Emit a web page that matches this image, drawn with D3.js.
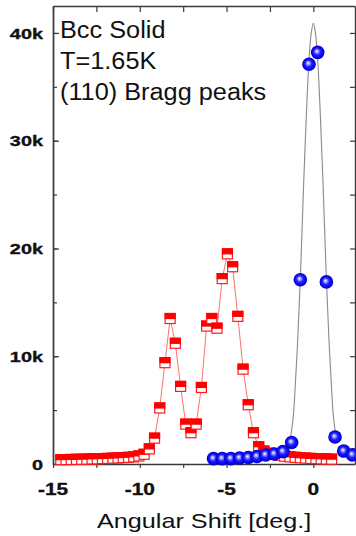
<!DOCTYPE html>
<html>
<head>
<meta charset="utf-8">
<script src="https://cdn.jsdelivr.net/npm/d3@7"></script>
<style>
  html, body { margin: 0; padding: 0; background: #fff; }
  svg { display: block; }
</style>
</head>
<body>
<svg id="chart" width="356" height="536"></svg>
<script>
// ---------------- data (values in thousands of counts) ----------------
const redX = [-14.55,-14.25,-13.95,-13.65,-13.35,-13.05,-12.75,-12.45,-12.15,-11.85,-11.55,-11.25,-10.95,-10.65,-10.35,
  -10.05,-9.75,-9.45,-9.15,-8.85,-8.55,-8.25,-7.95,-7.65,-7.35,-7.05,-6.75,-6.45,-6.15,-5.85,-5.55,-5.25,-4.95,
  -4.65,-4.35,-4.05,-3.75,-3.45,-3.15,-2.85,-2.55,-2.25,-1.95,-1.65,-1.35,-1.05,-0.75,-0.45,-0.15,0.15,0.45,0.75,1.05];
const redY = [0.40,0.41,0.42,0.43,0.44,0.45,0.47,0.48,0.50,0.52,0.54,0.56,0.59,0.62,0.66,
  0.75,0.9,1.4,2.4,5.2,9.4,13.5,11.2,7.2,3.7,2.9,3.7,7.1,12.8,13.5,12.6,17.2,19.5,
  18.3,13.7,8.8,5.5,2.9,1.6,1.2,1.0,0.9,0.8,0.72,0.66,0.62,0.58,0.55,0.52,0.5,0.48,0.46,0.45];

const blueX = [-5.75,-5.25,-4.75,-4.25,-3.75,-3.25,-2.75,-2.25,-1.75,-1.25,-0.75,-0.25,0.25,0.75,1.25,1.75,2.25];
const blueY = [0.5,0.5,0.5,0.55,0.6,0.7,0.84,0.93,1.15,2.0,17.1,37.1,38.2,16.9,2.5,1.2,0.85];

const fitX = [-1.3,-1.15,-1.0,-0.9,-0.75,-0.55,-0.4,-0.25,-0.12,0,0.12,0.25,0.4,0.55,0.75,0.9,1.0,1.15,1.3];
const fitY = [2.6,4.5,8.5,11.5,17.2,26.4,32.5,37.5,40.0,40.9,40.0,37.5,32.5,26.4,17.2,11.5,8.5,4.5,2.6];

const xMajor = [-15,-10,-5,0];
const xMinor = [-15,-12.5,-10,-7.5,-5,-2.5,0];
const xTickLabels = ["-15","-10","-5","0"];
const yMajor = [0,10,20,30,40];
const yMinor = [0,5,10,15,20,25,30,35,40];
const yTickLabels = ["0","10k","20k","30k","40k"];
const noteLines = ["Bcc Solid","T=1.65K","(110) Bragg peaks"];
const xTitle = "Angular Shift [deg.]";

// ---------------- layout ----------------
const L = 53, R = 355, T = 6, B = 464;
const svg = d3.select("#chart");
const x = d3.scaleLinear().domain([-15, 2.4]).range([L, R]);
const y = d3.scaleLinear().domain([0, 42.5]).range([B, T]);
const axisColor = "#3a3a3a";

function styleAxis(g) {
  g.selectAll("path.domain").attr("stroke", axisColor).attr("stroke-width", 1.4);
  g.selectAll(".tick line").attr("stroke", axisColor).attr("stroke-width", 1.2);
  g.selectAll(".tick text").remove();
}

svg.append("g").attr("transform", `translate(0,${B})`)
  .call(d3.axisBottom(x).tickValues(xMinor).tickSizeInner(4).tickSizeOuter(0).tickFormat(""))
  .call(styleAxis);
svg.append("g").attr("transform", `translate(0,${T})`)
  .call(d3.axisTop(x).tickValues(xMinor).tickSizeInner(-6).tickSizeOuter(0).tickFormat(""))
  .call(styleAxis);
svg.append("g").attr("transform", `translate(${L},0)`)
  .call(d3.axisLeft(y).tickValues(yMinor).tickSizeInner(-4).tickSizeOuter(0).tickFormat(""))
  .call(styleAxis);
svg.append("g").attr("transform", `translate(${L},0)`)
  .call(d3.axisLeft(y).tickValues(yMajor).tickSizeInner(-6).tickSizeOuter(0).tickFormat(""))
  .call(styleAxis);
svg.append("g").attr("transform", `translate(${R},0)`)
  .call(d3.axisRight(y).tickValues(yMinor).tickSizeInner(-5).tickSizeOuter(0).tickFormat(""))
  .call(styleAxis);

function stretchText(sel, k) {
  sel.each(function() {
    const len = this.getComputedTextLength();
    d3.select(this).attr("textLength", len * k).attr("lengthAdjust", "spacingAndGlyphs");
  });
}
const font = "'Liberation Sans', Arial, Helvetica, sans-serif";

// y tick labels
svg.append("g").selectAll("text").data(yMajor).join("text")
  .attr("x", 43).attr("y", d => y(d)).attr("dy", "0.36em")
  .attr("text-anchor", "end")
  .attr("font-family", font).attr("font-weight", "bold").attr("font-size", 15.5)
  .attr("fill", "#111").attr("stroke", "#111").attr("stroke-width", 0.35)
  .text((d, i) => yTickLabels[i])
  .call(stretchText, 1.28);

// x tick labels
svg.append("g").selectAll("text").data(xMajor).join("text")
  .attr("x", d => x(d)).attr("y", 495)
  .attr("text-anchor", "middle")
  .attr("font-family", font).attr("font-weight", "bold").attr("font-size", 16)
  .attr("fill", "#111").attr("stroke", "#111").attr("stroke-width", 0.35)
  .text((d, i) => xTickLabels[i])
  .call(stretchText, 1.3);

// x axis title
svg.append("text")
  .attr("x", 97).attr("y", 528)
  .attr("font-family", font).attr("font-size", 21)
  .attr("fill", "#111")
  .text(xTitle)
  .call(stretchText, 1.2);

// annotation
svg.append("g").selectAll("text").data(noteLines).join("text")
  .attr("x", 60).attr("y", (d, i) => 37.5 + i * 31.3)
  .attr("font-family", font).attr("font-size", 23)
  .attr("fill", "#111")
  .text(d => d)
  .call(stretchText, 1.1);

// ---------------- marks ----------------
const defs = svg.append("defs");
const grad = defs.append("radialGradient").attr("id", "sphere")
  .attr("cx", "0.5").attr("cy", "0.5").attr("r", "0.5")
  .attr("fx", "0.42").attr("fy", "0.4");
grad.append("stop").attr("offset", "0").attr("stop-color", "#ffffff");
grad.append("stop").attr("offset", "0.2").attr("stop-color", "#a8a8ff");
grad.append("stop").attr("offset", "0.5").attr("stop-color", "#2020ff");
grad.append("stop").attr("offset", "0.88").attr("stop-color", "#0000e6");
grad.append("stop").attr("offset", "1").attr("stop-color", "#0000b0");

const fitData = fitX.map((v, i) => [v, fitY[i]]);
svg.append("path").datum(fitData)
  .attr("fill", "none").attr("stroke", "#8a8a8a").attr("stroke-width", 1.1)
  .attr("d", d3.line().x(d => x(d[0])).y(d => y(d[1])).curve(d3.curveCatmullRom));

const redData = redX.map((v, i) => [v, redY[i]]);
svg.append("path").datum(redData)
  .attr("fill", "none").attr("stroke", "#ff7070").attr("stroke-width", 1)
  .attr("d", d3.line().x(d => x(d[0])).y(d => y(d[1])));

const s = 10;
const sq = svg.append("g").selectAll("g").data(redData).join("g")
  .attr("transform", d => `translate(${x(d[0])},${y(d[1])})`);
sq.append("rect").attr("x", -s/2).attr("y", -s/2).attr("width", s).attr("height", s)
  .attr("fill", "#fff").attr("stroke", "#ff1a1a").attr("stroke-width", 1.2);
sq.append("rect").attr("x", -s/2).attr("y", -s/2).attr("width", s).attr("height", s/2)
  .attr("fill", "#ff0000").attr("stroke", "#ff0000").attr("stroke-width", 1.2);

const blueData = blueX.map((v, i) => [v, blueY[i]]);
svg.append("g").selectAll("circle").data(blueData).join("circle")
  .attr("cx", d => x(d[0])).attr("cy", d => y(d[1])).attr("r", 6.8)
  .attr("fill", "url(#sphere)");
</script>
</body>
</html>
